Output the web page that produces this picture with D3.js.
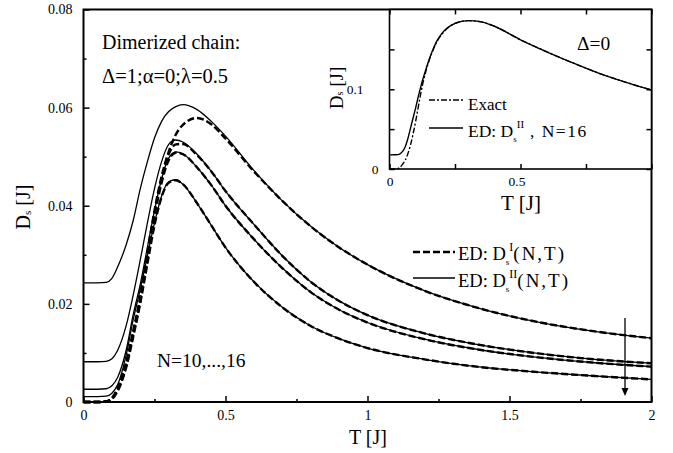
<!DOCTYPE html>
<html>
<head>
<meta charset="utf-8">
<script src="https://cdnjs.cloudflare.com/ajax/libs/d3/7.8.5/d3.min.js"></script>
<style>
  body { margin: 0; background: #fff; }
  text { fill: #000; }
  .tick line { stroke: #000; stroke-width: 1.5; }
</style>
</head>
<body>
<svg id="chart" width="673" height="453"></svg>
<script>
/*** DATA ***/

const serif = "'Liberation Serif', Tinos, 'Nimbus Roman', FreeSerif, 'DejaVu Serif', serif";

// main panel: temperature grid
const tMain = [0, 0.05, 0.08, 0.1, 0.12, 0.15, 0.175, 0.2, 0.225, 0.25, 0.275, 0.3, 0.325, 0.35,
  0.4, 0.45, 0.5, 0.6, 0.7, 0.8, 0.9, 1.0, 1.2, 1.4, 1.6, 1.8, 2.0];

// D_s^II (solid), one per system size
const dIIa = [0.0243, 0.0243, 0.0244, 0.0252, 0.0275, 0.032, 0.037, 0.0435, 0.049, 0.0538, 0.0572, 0.0592, 0.0602, 0.0606,
  0.0596, 0.0572, 0.0542, 0.0472, 0.041, 0.0358, 0.0315, 0.028, 0.0227, 0.019, 0.0163, 0.0144, 0.013];
const dIIb = [0.0082, 0.0082, 0.0083, 0.0088, 0.0105, 0.0155, 0.0218, 0.029, 0.0365, 0.0435, 0.049, 0.0525, 0.0534, 0.053,
  0.0505, 0.047, 0.043, 0.0362, 0.0298, 0.0245, 0.0206, 0.0177, 0.014, 0.0116, 0.0099, 0.0087, 0.0079];
const dIIc = [0.0026, 0.0026, 0.0027, 0.0033, 0.005, 0.0105, 0.0178, 0.024, 0.0315, 0.039, 0.0455, 0.0497, 0.051, 0.0506,
  0.0478, 0.0442, 0.04, 0.0332, 0.0273, 0.0224, 0.0188, 0.0162, 0.0128, 0.0106, 0.0091, 0.008, 0.0072];
const dIId = [0.0011, 0.0011, 0.0012, 0.0018, 0.0035, 0.0095, 0.0168, 0.023, 0.0298, 0.0365, 0.042, 0.0449, 0.0453, 0.0444,
  0.0405, 0.036, 0.0315, 0.0245, 0.0193, 0.0155, 0.0129, 0.011, 0.0087, 0.0071, 0.0061, 0.0053, 0.0046];

// D_s^I (dashed)
const dIa = [0, 0, 0.0001, 0.0008, 0.0028, 0.008, 0.0145, 0.0215, 0.0305, 0.039, 0.046, 0.051, 0.0545, 0.0565,
  0.0579, 0.0566, 0.0537, 0.047, 0.041, 0.0358, 0.0315, 0.028, 0.0227, 0.019, 0.0163, 0.0144, 0.013];
const dIb = [0, 0, 0.0001, 0.0007, 0.0025, 0.0075, 0.014, 0.0208, 0.0295, 0.0385, 0.0455, 0.0505, 0.0525, 0.0526,
  0.0503, 0.047, 0.043, 0.0362, 0.0298, 0.0245, 0.0206, 0.0177, 0.014, 0.0116, 0.0099, 0.0087, 0.0079];
const dIc = [0, 0, 0.0001, 0.0007, 0.0024, 0.0073, 0.0138, 0.0206, 0.029, 0.0378, 0.0447, 0.0493, 0.0508, 0.0505,
  0.0478, 0.0442, 0.04, 0.0332, 0.0273, 0.0224, 0.0188, 0.0162, 0.0128, 0.0106, 0.0091, 0.008, 0.0072];
const dId = [0, 0, 0.0001, 0.0006, 0.0022, 0.007, 0.0133, 0.0202, 0.0282, 0.036, 0.0418, 0.0447, 0.0452, 0.0444,
  0.0405, 0.036, 0.0315, 0.0245, 0.0193, 0.0155, 0.0129, 0.011, 0.0087, 0.0071, 0.0061, 0.0053, 0.0046];

// inset (Delta = 0)
const tInset = [0, 0.025, 0.04, 0.05, 0.06, 0.07, 0.08, 0.09, 0.1, 0.11, 0.12, 0.14, 0.16, 0.18, 0.2,
  0.25, 0.3, 0.35, 0.4, 0.5, 0.6, 0.7, 0.8, 0.9, 1.0];
const edInset = [0.0177, 0.0178, 0.019, 0.022, 0.028, 0.038, 0.051, 0.064, 0.077, 0.091, 0.104, 0.126, 0.145, 0.16, 0.17,
  0.1825, 0.186, 0.1845, 0.179, 0.162, 0.147, 0.133, 0.12, 0.109, 0.099];
const exactInset = [0, 0, 0.002, 0.006, 0.011, 0.019, 0.03, 0.044, 0.06, 0.078, 0.096, 0.124, 0.144, 0.159, 0.169,
  0.1825, 0.186, 0.1845, 0.179, 0.162, 0.147, 0.133, 0.12, 0.109, 0.099];

// ticks
const xMajor = [0, 0.5, 1, 1.5, 2];
const xMinor = [0.25, 0.75, 1.25, 1.75];
const yMajor = [0, 0.02, 0.04, 0.06, 0.08];
const yMinor = [0.01, 0.03, 0.05, 0.07];
const xInsetTicks = [0, 0.25, 0.5, 0.75, 1];
const yInsetTicks = [0, 0.05, 0.1, 0.15];


/*** SETUP ***/

const svg = d3.select("#chart").attr("font-family", serif);

const x = d3.scaleLinear().domain([0, 2]).range([83.5, 651.5]);
const y = d3.scaleLinear().domain([0, 0.08]).range([402, 9.5]);

const xi = d3.scaleLinear().domain([0, 1]).range([389.5, 651.5]);
const yi = d3.scaleLinear().domain([0, 0.2]).range([169, 9.5]);

function zip(ts, vs) {
  return ts.map((t, i) => [t, vs[i]]);
}


/*** MAIN PANEL ***/

const lineMain = d3.line()
  .x(d => x(d[0]))
  .y(d => y(d[1]))
  .curve(d3.curveMonotoneX);

// solid D^II curves
[dIIa, dIIb, dIIc, dIId].forEach(s => {
  svg.append("path")
    .attr("d", lineMain(zip(tMain, s)))
    .attr("fill", "none")
    .attr("stroke", "#000")
    .attr("stroke-width", 1.3);
});

// dashed D^I curves
[dIa, dIb, dIc, dId].forEach(s => {
  svg.append("path")
    .attr("d", lineMain(zip(tMain, s)))
    .attr("fill", "none")
    .attr("stroke", "#000")
    .attr("stroke-width", 2.4)
    .attr("stroke-dasharray", "7,3");
});

// axes, ticks point inwards
const gx = svg.append("g").attr("transform", "translate(0,402)");
gx.call(d3.axisBottom(x).tickValues(xMajor).tickSize(-6).tickPadding(8).tickFormat(d3.format("")));
gx.call(g => g.append("g").call(d3.axisBottom(x).tickValues(xMinor).tickSize(-3).tickFormat("")));

const gy = svg.append("g").attr("transform", "translate(83.5,0)");
gy.call(d3.axisLeft(y).tickValues(yMajor).tickSize(-6).tickPadding(11).tickFormat(d3.format("")));
gy.call(g => g.append("g").call(d3.axisLeft(y).tickValues(yMinor).tickSize(-3).tickFormat("")));

svg.selectAll(".domain").remove();
svg.selectAll("g").attr("font-family", serif);
svg.selectAll(".tick text").attr("font-size", 14);

svg.append("rect")
  .attr("x", x(0)).attr("y", y(0.08))
  .attr("width", x(2) - x(0)).attr("height", y(0) - y(0.08))
  .attr("fill", "none").attr("stroke", "#000").attr("stroke-width", 2);

// axis titles
svg.append("text")
  .attr("x", 368).attr("y", 444)
  .attr("text-anchor", "middle")
  .attr("font-size", 20)
  .text("T [J]");

const yl = svg.append("text")
  .attr("transform", "translate(30,207) rotate(-90)")
  .attr("text-anchor", "middle")
  .attr("font-size", 20);
yl.append("tspan").text("D");
yl.append("tspan").attr("dy", 1).attr("font-size", 11).text("s");
yl.append("tspan").attr("dy", -1).text(" [J]");

// annotations
svg.append("text").attr("x", 102).attr("y", 49).attr("font-size", 20).text("Dimerized chain:");
svg.append("text").attr("x", 102).attr("y", 83).attr("font-size", 20.5).text("Δ=1;α=0;λ=0.5");
svg.append("text").attr("x", 157).attr("y", 367).attr("font-size", 19.5).text("N=10,...,16");

// legend
svg.append("line")
  .attr("x1", 413).attr("x2", 455).attr("y1", 252).attr("y2", 252)
  .attr("stroke", "#000").attr("stroke-width", 2.4).attr("stroke-dasharray", "7,3");
svg.append("line")
  .attr("x1", 413).attr("x2", 455).attr("y1", 278).attr("y2", 278)
  .attr("stroke", "#000").attr("stroke-width", 1.3);

function legendText(yPos, sup) {
  const t = svg.append("text").attr("x", 458).attr("y", yPos).attr("font-size", 18.5);
  t.append("tspan").text("ED: D");
  t.append("tspan").attr("dy", 5).attr("font-size", 9).text("s");
  t.append("tspan").attr("dy", -14).attr("font-size", 12).text(sup);
  t.append("tspan").attr("dy", 9).attr("font-size", 19).attr("letter-spacing", 2).text("(N,T)");
}
legendText(260, "I");
legendText(287, "II");

// arrow N increasing
svg.append("line")
  .attr("x1", 625).attr("x2", 625).attr("y1", 318).attr("y2", 389)
  .attr("stroke", "#000").attr("stroke-width", 1.3);
svg.append("path")
  .attr("d", "M621.5,388 L628.5,388 L625,396 Z")
  .attr("fill", "#000");


/*** INSET ***/

const inset = svg.append("g");

inset.append("rect")
  .attr("x", xi(0)).attr("y", yi(0.2))
  .attr("width", xi(1) - xi(0)).attr("height", yi(0) - yi(0.2))
  .attr("fill", "#fff");

const lineInset = d3.line()
  .x(d => xi(d[0]))
  .y(d => yi(d[1]))
  .curve(d3.curveMonotoneX);

inset.append("path")
  .attr("d", lineInset(zip(tInset, exactInset)))
  .attr("fill", "none").attr("stroke", "#000")
  .attr("stroke-width", 1.4)
  .attr("stroke-dasharray", "6,2,2,2");

inset.append("path")
  .attr("d", lineInset(zip(tInset, edInset)))
  .attr("fill", "none").attr("stroke", "#000")
  .attr("stroke-width", 1.4);

const fmtInset = d => (d === 0 ? "0" : d === 0.5 ? "0.5" : d === 0.1 ? "0.1" : "");

const ib = inset.append("g").attr("transform", `translate(0,${yi(0)})`)
  .call(d3.axisBottom(xi).tickValues(xInsetTicks).tickSize(-5).tickPadding(7).tickFormat(fmtInset));
inset.append("g").attr("transform", `translate(0,${yi(0.2)})`)
  .call(d3.axisTop(xi).tickValues(xInsetTicks).tickSize(-5).tickFormat(""));
const il = inset.append("g").attr("transform", `translate(${xi(0)},0)`)
  .call(d3.axisLeft(yi).tickValues(yInsetTicks).tickSize(-5).tickPadding(10).tickFormat(fmtInset));
inset.append("g").attr("transform", `translate(${xi(1)},0)`)
  .call(d3.axisRight(yi).tickValues(yInsetTicks).tickSize(-5).tickFormat(""));

inset.selectAll(".domain").remove();
inset.selectAll("g").attr("font-family", serif);
inset.selectAll(".tick text").attr("font-size", 13.5);
il.selectAll(".tick text").attr("x", d => (d === 0 ? -11 : -26));
ib.selectAll(".tick text").attr("x", d => (d === 0.5 ? -4 : 0));

inset.append("rect")
  .attr("x", xi(0)).attr("y", yi(0.2))
  .attr("width", xi(1) - xi(0)).attr("height", yi(0) - yi(0.2))
  .attr("fill", "none").attr("stroke", "#000").attr("stroke-width", 1.6);

inset.append("text")
  .attr("x", 521).attr("y", 210)
  .attr("text-anchor", "middle")
  .attr("font-size", 21)
  .text("T [J]");

const iyl = inset.append("text")
  .attr("transform", "translate(343,88) rotate(-90)")
  .attr("text-anchor", "middle")
  .attr("font-size", 19);
iyl.append("tspan").text("D");
iyl.append("tspan").attr("font-size", 10).text("s");
iyl.append("tspan").text(" [J]");

inset.append("text").attr("x", 577).attr("y", 50).attr("font-size", 19.5).text("Δ=0");

// inset legend
inset.append("line")
  .attr("x1", 429).attr("x2", 463).attr("y1", 100).attr("y2", 100)
  .attr("stroke", "#000").attr("stroke-width", 1.4).attr("stroke-dasharray", "6,2,2,2");
inset.append("text").attr("x", 468).attr("y", 110).attr("font-size", 17).text("Exact");

inset.append("line")
  .attr("x1", 429).attr("x2", 463).attr("y1", 128).attr("y2", 128)
  .attr("stroke", "#000").attr("stroke-width", 1.4);
const il2 = inset.append("text").attr("x", 468).attr("y", 137).attr("font-size", 17.5);
il2.append("tspan").text("ED: D");
il2.append("tspan").attr("dy", 5).attr("font-size", 9).text("s");
il2.append("tspan").attr("dy", -14).attr("font-size", 11).text("II");
il2.append("tspan").attr("dy", 9).attr("letter-spacing", 1.5).text(" , N=16");
</script>
</body>
</html>
